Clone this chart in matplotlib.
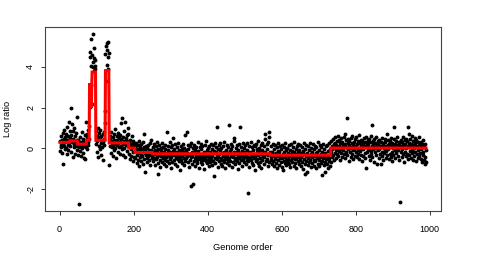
import numpy as np
import matplotlib
matplotlib.use("Agg")
import matplotlib.pyplot as plt

plt.rcParams['font.family'] = ['Liberation Sans', 'DejaVu Sans']

# ---- log ratio values, in genome order, grouped by segment ----
seg_a = [0.35, -0.12, 0.62, 0.18, 0.05, 0.41, -0.20, 0.78, 0.22, -0.75, 0.48, 0.10, 0.93, -0.05,
         0.30, 0.55, 0.02, 0.71, -0.28, 0.40, 1.05, 0.15, 0.60, -0.10, 1.30, 0.25, 0.85]
seg_b = [0.52, 0.10, 1.97, 0.65, -0.18, 1.18, 0.30, 0.88, -0.40, 0.45, 0.20, 1.02, 0.05, 0.62,
         -0.25, 0.38, 0.75, 0.12, 1.52, -0.08, 0.40]
seg_c = [0.15, -0.30, 0.42, 0.05, -2.72, 0.30, -0.12, 0.58, 0.22, -0.38, 0.10, 0.80, 0.02, 0.35,
         -0.20, 0.48, 0.12, -0.45, 0.25, 0.65, -0.53, 0.18, 0.05, 1.31]
seg_c2 = [0.55, -0.05, 0.72, 0.30, 0.90, 0.15, 0.48, 1.10]
seg_d = [4.50, 2.05, 4.72, 5.36, 3.10, 4.05, 2.20]
seg_e = [4.60, 4.00, 5.64, 4.25, 4.95, 3.80, 4.45, 4.34, 3.90, 4.05]
seg_f = [0.85, 0.20, -0.15, 0.62, 0.35, 1.00, -0.40, 0.55, 0.10, 0.75, -0.05, 0.48, 0.92, 0.25,
         -0.30, 0.60, 0.38, 0.05, 0.70, -0.55, 0.30, 0.82, 0.15, 0.45, 1.25, 1.84]
seg_g = [4.63, 3.30, 5.05, 4.10, 5.17, 4.85, 3.90, 5.21, 4.50, 4.70]
seg_h = [-0.82, 0.45, 0.10, 0.62, -0.20, 0.35, 0.80, 0.05, 0.28, -0.35, 0.55, 0.15, 0.72, -0.10,
         0.40, 0.22, 0.95, 0.00, 0.33, -0.48, 0.60, 0.18, 0.42, -0.15, 0.75, 0.25, 0.08, 0.50,
         -0.25, 0.68, 0.30, 0.12, 1.25, 0.45, -0.05, 1.48, 0.20, 0.58, -0.30, 0.38, 0.85, 0.02,
         0.27, 1.30, -0.40, 0.52, 0.15, 0.65, -0.12, 0.35, 0.70, 0.10, 1.02]
seg_i = [0.30, -0.25, 0.15, -0.50, 0.42, -0.05, 0.20, -0.35, 0.60, 0.08, -0.18, 0.35, -0.60,
         0.12, 0.25, -0.40, 0.05]
seg_j = [0.10, -0.45, -0.15, 0.25, -0.70, -0.05, -0.30, 0.15, -0.55, -0.20,
         0.35, -0.85, -0.10, 0.05, -0.40, -0.25, 0.20, -0.60, -0.02, -0.35,
         -0.15, -0.75, 0.30, 0.08, 0.72, -0.50, -0.20, -0.05, -1.15, -0.30,
         0.12, -0.45, -0.65, 0.00, -0.28, 0.18, -0.38, -0.10, -0.55, 0.25,
         -0.22, -0.80, -0.08, 0.40, -0.32, -0.15, -0.48]
seg_k = [-0.35, 0.05, -0.62, -0.18, 0.22, -0.45, -0.08, -0.80, -0.25, 0.10,
         -0.52, -0.15, 0.30, -0.40, -0.70, -1.23, -0.05, -0.32, 0.15, -0.58,
         -0.22, -0.90, 0.02, -0.38, -0.12, 0.25, -0.65, -0.28, -0.48, 0.08,
         -0.15, -0.75, -0.30, 0.18, -0.55, -0.02, -0.42, -0.85, 0.80, -0.20,
         -0.60, 0.12, -0.35, -0.10, -0.72, -0.25, 0.30, -0.50, -0.18, -0.95,
         0.05, -0.40, -0.28, -0.65, 0.15, -0.12, 0.49, -0.58, -0.32, -0.05,
         -0.78, -0.22, 0.20, -0.45, -0.15, -0.88, -0.35, 0.08, -0.52, -0.25,
         0.28, -0.62, -0.08, -0.40, -1.05, -0.18, 0.10, -0.30, -0.55, -0.02,
         -0.70, -0.38, 0.22, -0.15, -0.48, -0.82, 0.02, -0.28, 0.66, -0.60,
         -0.10, -0.45, 0.82, -0.35, -0.20, 0.15, -0.68, -0.05, -0.92, -0.30,
         0.12, -0.55, -0.25, -1.84, -0.42, 0.25, -0.15, -0.75, -0.38, 0.00,
         -1.75, -0.60, -0.22, 0.18, -0.48, -0.08, -0.85, -0.32, 0.08, -0.58,
         -0.18, -0.70, 0.30, -0.42, -0.12, -0.95, -0.28, 0.05, -0.52, -0.35,
         0.20, -0.65, -0.05, -0.40, -0.78, 0.10, -0.25, -0.55, -0.15, -1.00,
         -0.32, 0.15, -0.48, -0.20, -0.62, 0.35, -0.10, -0.72, -0.38, 0.02,
         -0.58, -0.25, -0.88, 0.12, -0.42, -0.15, -0.68, 0.22, -0.30, -0.50,
         -0.05, -0.80, -0.35, 0.18, -0.60, -0.22, -1.35, -0.12, 0.28, -0.45,
         -0.70, -0.18, 0.08, -0.52, 1.06, -0.32, -0.90, -0.02, -0.40, 0.15,
         -0.62, -0.28, -0.10, 0.25, -0.75, -0.45, 0.00, -0.55, -0.20, -0.85,
         0.10, -0.38, -0.65, -0.15, 0.30, -0.50, -0.25, -0.98, -0.08, -0.42,
         0.18, -0.72, -0.30, -0.58, 0.05, -0.20, -0.82, 1.15, -0.45, -0.12,
         -0.60, 0.22, -0.35, -0.05, -0.92, -0.28, 0.12, -0.68, -0.40, -0.18,
         0.35, 0.52, -0.55, -0.25, -0.78, 0.02, -0.48, -0.15, -0.62, 0.15,
         -0.32, -1.02, -0.08, -0.45, 0.20, -0.70, -0.22, 1.06, -0.38, -0.58,
         0.08, -0.25, -0.85, -0.12, 0.28, -0.52, -0.35, -0.65, 0.00, -0.42,
         -0.18, 0.15, -0.75, -0.30, -0.55, 0.25, -0.08, -0.62, -0.40, -2.20,
         -0.22, 0.10, -0.90, -0.45, -0.15, 0.32, -0.58, -0.28, -0.70, 0.05,
         -0.35, -0.10, -0.80, 0.18, -0.48, -0.25, -1.08, 0.12, -0.38, -0.60,
         0.22, -0.18, -0.52, -0.05, -0.72, 0.38, -0.30, -0.88, -0.12, 0.02,
         -0.45, -0.65, 0.15, -0.28, -0.95, -0.08, 0.28, -0.55, -0.35, -0.20,
         0.10, -0.78, -0.42, 0.45, -0.15, 0.70, -0.60, -0.25, 0.20, -0.50,
         -0.05, -0.85, 0.30, -0.32, 0.58, -0.68, 0.79, -0.18]
seg_l = [-0.20, -0.55, 0.10, -0.42, -0.75, -0.15, -0.35, 0.22, -0.62, -0.28,
         -0.05, -0.85, -0.40, 0.15, -0.52, -0.22, -0.70, 0.05, -0.38, -0.95,
         -0.12, 0.28, -0.58, -0.30, -0.80, -0.18, 0.12, -0.48, -0.65, -0.02,
         -0.35, -0.90, 0.18, -0.45, -1.07, -0.25, -0.60, 0.08, -0.15, -0.72,
         -0.42, 0.25, -0.55, -0.10, -0.82, -0.32, 0.02, -0.68, -0.20, -0.50,
         0.15, -0.75, -0.38, -0.08, -0.92, -0.28, 0.20, -0.58, -0.45, -0.12,
         -0.65, 0.05, -0.35, -0.85, -0.18, 0.30, -0.52, -0.25, -0.72, -0.02,
         -0.48, -0.95, 0.12, -0.30, -0.60, -0.15, 0.22, -0.78, -0.40, -0.08,
         -0.55, 0.18, -0.88, -0.22, -0.42, 0.08, -0.65, -0.32, -1.00, -0.12,
         0.25, -0.50, -0.28, -0.75, -0.05, -1.27, -0.38, 0.15, -0.62, -1.15,
         -0.20, -0.45, 0.10, -0.82, -0.35, -0.10, -0.68, 0.28, -0.55, -0.25,
         -0.90, 0.02, -0.42, -0.15, -0.72, 0.20, -0.30, -0.58, -0.05, -0.85,
         -0.38, 0.12, -0.62, -0.22, -0.98, 0.05, -0.48, -0.18, -0.75, 0.30,
         -0.32, -0.55, -0.08, -0.88, 0.15, -0.42, -0.25, -0.70, 0.08, -0.60,
         -1.28, -0.15, -0.45, 0.22, -0.80, -0.35, -0.02, -0.65, -0.20, -1.17,
         0.10, -0.52, -0.30, -0.78, 0.18, -0.40, -0.95, -0.12, -0.62, 0.25,
         -0.45, -0.85, -0.05, -0.68]
seg_m = [-0.15, 0.35, -0.42, 0.12, -0.05, 0.48, -0.30, 0.20, -0.58, 0.05,
         0.28, -0.20, 0.55, -0.10, -0.45, 0.15, 0.38, -0.28, 0.02, 0.62,
         -0.35, 0.10, -0.12, 0.42, -0.55, 0.25, -0.02, 0.50, -0.22, 0.08,
         0.32, -0.40, 0.18, -0.08, 0.58, -0.25, 0.12, 0.69, -0.48, 0.22,
         -0.15, 0.40, 0.05, 1.48, -0.32, 0.28, -0.05, 0.45, -0.60, 0.15,
         0.35, -0.18, 0.08, -0.42, 0.52, 0.00, -0.28, 0.25, 0.62, -0.10,
         0.18, -0.52, 0.30, -0.02, 0.45, -0.35, 0.12, -0.15, 0.55, 0.05,
         -0.40, 0.22, -0.08, 0.38, -0.25, 0.65, 0.02, -0.50, 0.28, -0.12,
         0.42, -0.30, 0.15, 0.00, -0.62, 0.35, -0.05, 0.20, -0.38, 0.50,
         0.08, -0.20, 0.32, -0.45, 0.58, -0.98, 0.12, 0.25, -0.15, 0.40,
         -0.08, 0.18, -0.35, 0.48, 0.02, -0.55, 0.30, -0.12, 0.62, -0.25,
         1.15, 0.10, -0.42, 0.35, -0.02, 0.22, -0.68, 0.45, 0.05, -0.18,
         0.28, -0.32, 0.55, 0.00, -0.78, 0.15, 0.38, -0.10, 0.20, -0.48,
         0.42, -0.05, 0.12, -0.28, -0.78, 0.32, 0.08, -0.15, 0.50, -0.38,
         0.18, -0.58, 0.25, 0.02, -0.22, 0.45, -0.08, 0.30, -0.45, 0.12,
         -0.12, 0.69, -0.30, 0.15, 0.40, -0.05, -0.52, 0.22, 0.05, -0.25,
         0.35, -0.40, 0.10, 0.52, -0.15, 0.28, -0.62, 0.00, 0.18, -0.32,
         0.45, 1.07, -0.08, 0.22, -0.48, 0.12, 0.38, -0.20, 0.02, 0.58,
         -0.35, 0.15, -0.10, 0.30, -0.55, 0.25, 0.05, -2.64, 0.42, -0.18,
         0.10, -0.42, 0.32, -0.02, 0.55, -0.28, 0.18, -0.65, 0.08, 0.40,
         -0.15, 0.22, -0.38, 0.48, 0.00, -0.25, 0.35, -0.50, 1.05, 0.12,
         -0.30, 0.28, 0.69, -0.12, 0.45, -0.45, 0.05, 0.20, -0.22, 0.62,
         -0.08, 0.35, -0.55, 0.15, 0.02, -0.35, 0.50, -0.18, 0.25, -0.60,
         0.10, 0.42, -0.28, 0.05, -0.45, 0.30, -0.10, 0.55, -0.38, 0.18,
         -0.20, 0.00, -0.52, 0.32, -0.05, 0.22, -0.68, 0.12, -0.30, 0.40,
         -0.15, -0.58, 0.08, -0.75, 0.20, -0.42, -0.65, -0.10]

# ---- segmentation (red line): segment lengths and mean levels ----
seg_lengths = [27, 21, 24, 8, 1, 1, 1, 1, 1, 1, 1, 10, 26, 10, 53, 17, 47, 318, 164, 258]
seg_levels = [0.30, 0.37, 0.21, 0.41, 3.2, 2.0, 3.2, 2.0, 3.2, 2.0, 3.2, 3.75, 0.40, 3.82,
              0.27, 0.02, -0.20, -0.26, -0.33, 0.02]

x_ticks = [0, 200, 400, 600, 800, 1000]
y_ticks = [-2, 0, 2, 4]
x_label = "Genome order"
y_label = "Log ratio"

log_ratio = np.array(seg_a + seg_b + seg_c + seg_c2 + seg_d + seg_e + seg_f + seg_g + seg_h
                     + seg_i + seg_j + seg_k + seg_l + seg_m)
genome_order = np.arange(1, len(log_ratio) + 1)
seg_line = np.repeat(seg_levels, seg_lengths)

W, H = 492, 256
fig = plt.figure(figsize=(W / 100, H / 100), dpi=100)
ax_l, ax_r, ax_t, ax_b = 45.3, 440.7, 26.7, 210.7
ax = fig.add_axes([ax_l / W, 1 - ax_b / H, (ax_r - ax_l) / W, (ax_b - ax_t) / H])

ax.plot(genome_order, log_ratio, 'o', color='black', markersize=2.8, markeredgewidth=0)
ax.plot(genome_order, seg_line, color='#ff0000', lw=2.2, solid_joinstyle='miter')

# R-style 4% axis padding
xr = genome_order.max() - genome_order.min()
ax.set_xlim(genome_order.min() - 0.04 * xr, genome_order.max() + 0.04 * xr)
yr = log_ratio.max() - log_ratio.min()
ax.set_ylim(log_ratio.min() - 0.04 * yr, log_ratio.max() + 0.04 * yr)

ax.set_xticks(x_ticks)
ax.set_yticks(y_ticks)
ax.set_xticklabels([str(t) for t in x_ticks])
ax.set_yticklabels([str(t) for t in y_ticks], rotation=90, va='center')
ax.tick_params(axis='both', direction='out', length=3.2, width=0.7, colors='#333333',
               labelsize=6.5, labelcolor='black')
ax.tick_params(axis='x', pad=6.8)
ax.tick_params(axis='y', pad=4.0)
for s in ax.spines.values():
    s.set_linewidth(0.8)
    s.set_color('#444444')

fig.text(243 / W, 1 - 248 / H, x_label, ha='center', va='center', fontsize=6.7)
fig.text(7.8 / W, 1 - 118.7 / H, y_label, ha='center', va='center', rotation=90, fontsize=6.7)

fig.savefig("out.png", dpi=100)
